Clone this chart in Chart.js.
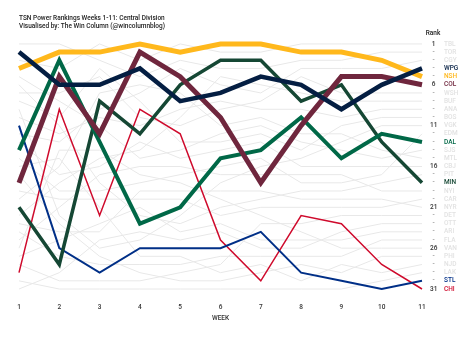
<!DOCTYPE html>
<html>
<head>
<meta charset="utf-8">
<script src="https://cdn.jsdelivr.net/npm/chart.js@4.4.1/dist/chart.umd.min.js"></script>
<style>
  html, body { margin:0; padding:0; background:#fff; }
  #wrap { width:474px; height:338px; }
</style>
</head>
<body>
<div id="wrap"><canvas id="rankings" width="474" height="338"></canvas></div>
<script>
/* TSN power rankings, weeks 1-11 — Central Division highlighted */

const weeks = ['1','2','3','4','5','6','7','8','9','10','11'];

// Central Division (rank per week)
const WPG = [2, 6, 6, 4, 8, 7, 5, 6, 9, 6, 4];
const NSH = [4, 2, 2, 1, 2, 1, 1, 2, 2, 3, 5];
const COL = [18, 5, 12, 2, 5, 10, 18, 11, 5, 5, 6];
const DAL = [14, 3, 13, 23, 21, 15, 14, 10, 15, 12, 13];
const MIN = [21, 28, 8, 12, 6, 3, 3, 8, 6, 13, 18];
const STL = [11, 26, 29, 26, 26, 26, 24, 29, 30, 31, 30];
const CHI = [29, 9, 22, 9, 12, 25, 30, 22, 23, 28, 31];

// rest of the league (grey background lines)
const TBL = [3, 4, 1, 3, 1, 2, 2, 1, 1, 1, 1];
const TOR = [1, 1, 3, 5, 3, 4, 4, 3, 3, 2, 2];
const CGY = [12, 13, 9, 7, 4, 6, 7, 4, 4, 4, 3];
const WSH = [7, 7, 5, 10, 11, 9, 8, 5, 7, 7, 7];
const BUF = [22, 18, 15, 14, 10, 5, 6, 7, 8, 8, 8];
const ANA = [10, 12, 10, 11, 9, 8, 9, 9, 10, 9, 9];
const BOS = [8, 10, 4, 8, 13, 13, 12, 14, 11, 10, 10];
const VGK = [9, 22, 26, 25, 22, 18, 16, 15, 13, 11, 11];
const EDM = [15, 19, 19, 18, 17, 16, 15, 18, 18, 17, 12];
const SJS = [5, 8, 11, 15, 14, 12, 11, 13, 14, 15, 14];
const MTL = [20, 16, 7, 6, 7, 11, 10, 12, 12, 14, 15];
const CBJ = [13, 17, 16, 13, 15, 14, 13, 16, 16, 16, 16];
const PIT = [6, 11, 18, 22, 23, 21, 20, 19, 19, 18, 17];
const NYI = [25, 21, 17, 16, 16, 17, 17, 17, 17, 19, 19];
const CAR = [19, 20, 20, 20, 20, 22, 21, 21, 21, 21, 20];
const NYR = [23, 24, 24, 19, 19, 19, 19, 20, 20, 20, 21];
const DET = [28, 30, 30, 30, 29, 28, 23, 23, 22, 22, 22];
const OTT = [31, 29, 25, 24, 25, 24, 26, 26, 24, 23, 23];
const ARI = [27, 25, 23, 21, 24, 23, 25, 25, 25, 24, 24];
const FLA = [24, 27, 28, 28, 28, 27, 27, 27, 27, 25, 25];
const VAN = [26, 14, 14, 17, 18, 20, 22, 24, 26, 26, 26];
const PHI = [17, 23, 27, 29, 30, 30, 29, 28, 29, 27, 27];
const NJD = [16, 15, 21, 27, 27, 29, 28, 30, 28, 29, 28];
const LAK = [30, 31, 31, 31, 31, 31, 31, 31, 31, 30, 29];

const central = [
  // name, data, colour, width  (first = drawn on top)
  ['WPG', WPG, '#041E42', 4.5],
  ['NSH', NSH, '#FFB81C', 5],
  ['COL', COL, '#6F263D', 5],
  ['DAL', DAL, '#006847', 4],
  ['MIN', MIN, '#154734', 3.5],
  ['STL', STL, '#002F87', 2],
  ['CHI', CHI, '#CF0A2C', 1.5],
];
const others = [
  ['TBL', TBL], ['TOR', TOR], ['CGY', CGY], ['WSH', WSH], ['BUF', BUF], ['ANA', ANA],
  ['BOS', BOS], ['VGK', VGK], ['EDM', EDM], ['SJS', SJS], ['MTL', MTL], ['CBJ', CBJ],
  ['PIT', PIT], ['NYI', NYI], ['CAR', CAR], ['NYR', NYR], ['DET', DET], ['OTT', OTT],
  ['ARI', ARI], ['FLA', FLA], ['VAN', VAN], ['PHI', PHI], ['NJD', NJD], ['LAK', LAK],
];

const GREY_LINE = '#e8e8e8';
const GREY_TEXT = '#e2e2e2';
const FONT = 'Roboto, "Noto Sans", sans-serif';

// label at the right = each team's latest rank
const last = weeks.length - 1;
const teamAtRank = {};
central.forEach(([n, d, c]) => { teamAtRank[d[last]] = { n, c }; });
others.forEach(([n, d]) => { teamAtRank[d[last]] = { n, c: GREY_TEXT }; });

const datasets = [];
central.forEach(([n, d, c, w], i) => {
  datasets.push({ label: n, data: d, yAxisID: 'yRank', borderColor: c, borderWidth: w, order: i, clip: false });
});
others.forEach(([n, d]) => {
  datasets.push({ label: n, data: d, yAxisID: 'yRank', borderColor: GREY_LINE, borderWidth: 1, order: 50, clip: false });
});

const rankHeader = {
  id: 'rankHeader',
  afterDraw(chart) {
    const ctx = chart.ctx;
    ctx.save();
    ctx.font = '500 6.5px ' + FONT;
    ctx.fillStyle = '#222';
    ctx.textAlign = 'center';
    ctx.textBaseline = 'middle';
    ctx.fillText('Rank', chart.chartArea.right + 11, chart.chartArea.top - 11);
    ctx.restore();
  }
};

const yBase = {
  type: 'linear', position: 'right', reverse: true, min: 1, max: 31,
  grid: { display: false, drawTicks: false }, border: { display: false },
};

new Chart(document.getElementById('rankings'), {
  type: 'line',
  data: { labels: weeks, datasets },
  plugins: [rankHeader],
  options: {
    responsive: false,
    animation: false,
    elements: { point: { radius: 0 }, line: { tension: 0 } },
    layout: { padding: { left: 19, right: 0, top: 0, bottom: 16 } },
    plugins: {
      legend: { display: false },
      tooltip: { enabled: false },
      title: {
        display: true, align: 'start', color: '#222',
        text: ['TSN Power Rankings Weeks 1-11: Central Division', 'Visualised by: The Win Column (@wincolumnblog)'],
        font: { family: FONT, size: 6.5, weight: '500', lineHeight: 1.15 },
        padding: { top: 15, bottom: 14 },
      },
    },
    scales: {
      x: {
        offset: false,
        grid: { display: false, drawTicks: false }, border: { display: false },
        ticks: { color: '#333', padding: 14, maxRotation: 0, font: { family: FONT, size: 6.5, weight: '500' } },
        title: { display: true, text: 'WEEK', color: '#333', padding: { top: 2, bottom: 0 },
                 font: { family: FONT, size: 6.5, weight: '500' } },
        afterFit: s => { s.height = 33; },
      },
      yRank: {
        ...yBase,
        afterFit: s => { s.width = 22; },
        ticks: {
          stepSize: 1, autoSkip: false, padding: 8, crossAlign: 'center',
          font: { family: FONT, size: 6.5, weight: '500' },
          callback: v => ((v - 1) % 5 === 0 ? String(v) : '-'),
          color: c => ((c.tick.value - 1) % 5 === 0 ? '#333' : '#999'),
        },
      },
      yTeam: {
        ...yBase,
        afterFit: s => { s.width = 30; },
        ticks: {
          stepSize: 1, autoSkip: false, padding: 0,
          font: { family: FONT, size: 6.5, weight: '500' },
          callback: v => (teamAtRank[v] ? teamAtRank[v].n : ''),
          color: c => (teamAtRank[c.tick.value] ? teamAtRank[c.tick.value].c : GREY_TEXT),
        },
      },
    },
  },
});
</script>
</body>
</html>
